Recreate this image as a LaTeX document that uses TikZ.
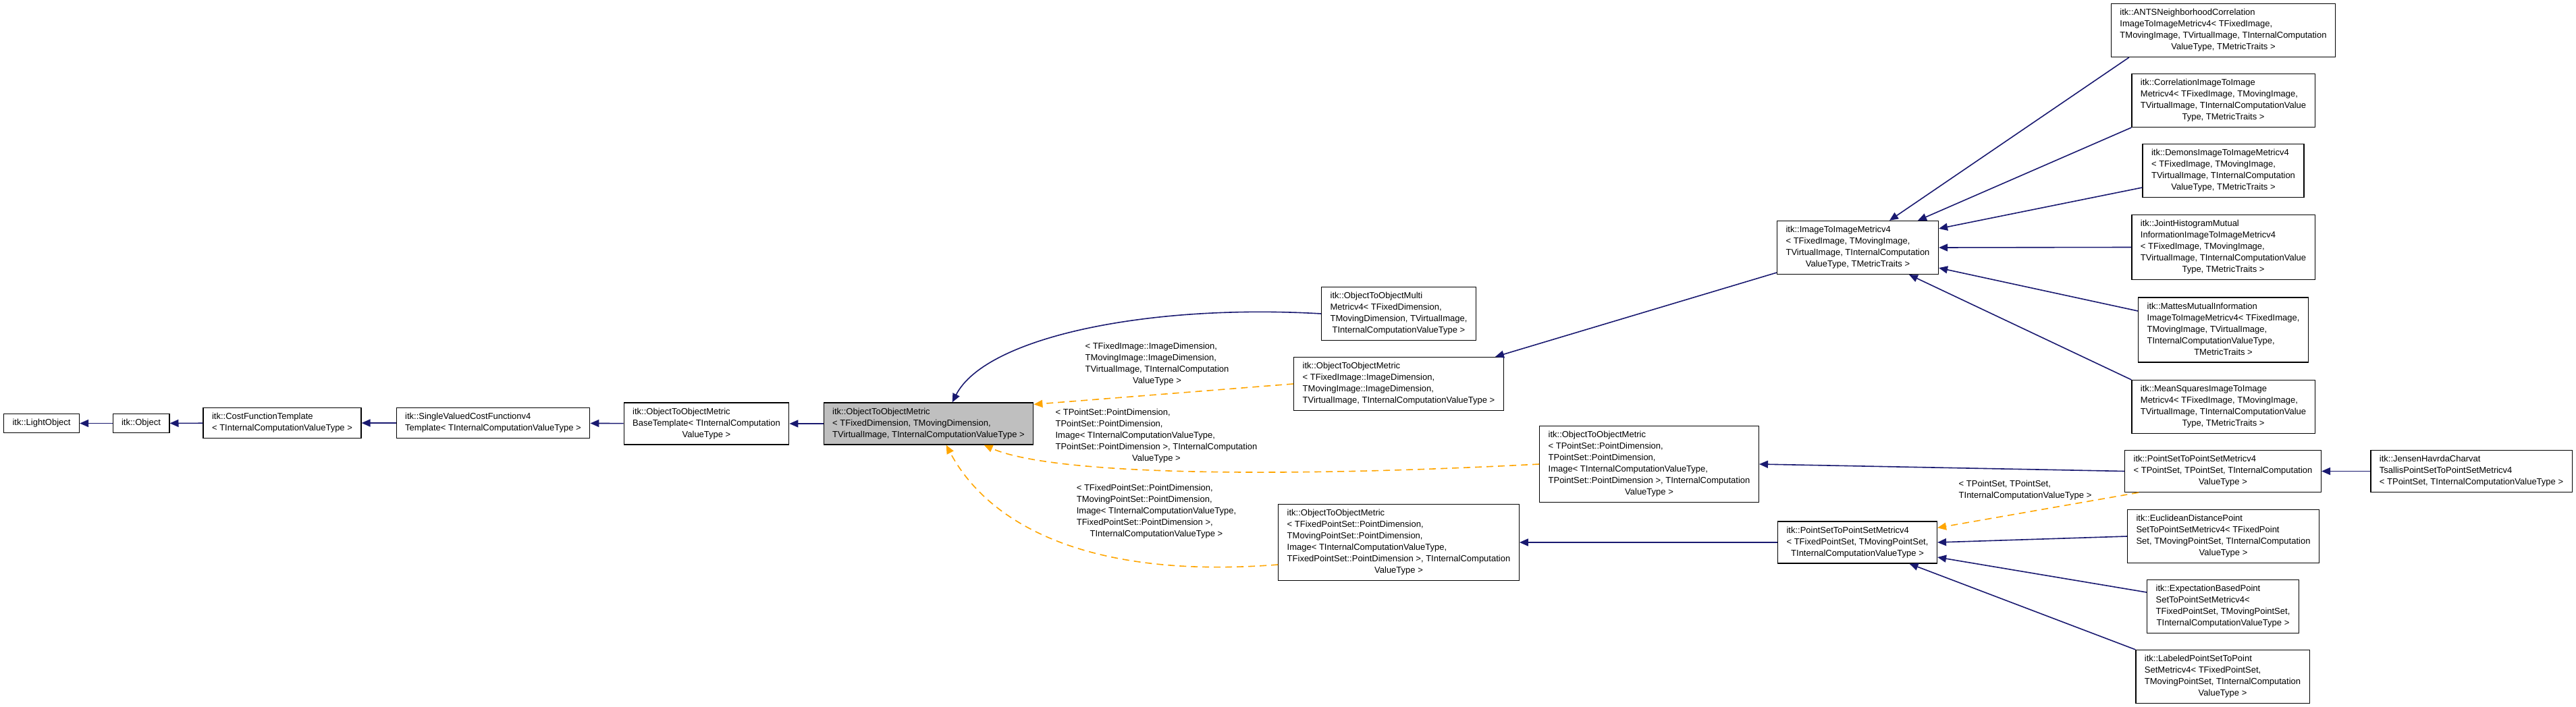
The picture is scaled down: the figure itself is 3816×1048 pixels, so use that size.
\documentclass[tikz,border=0pt]{standalone}
\usepackage{fontspec}
\setmainfont{Liberation Sans}
\usetikzlibrary{arrows.meta,calc}
\definecolor{edgeblue}{HTML}{191970}
\definecolor{tplorange}{HTML}{FFA500}
\definecolor{curgray}{HTML}{BFBFBF}
% left aligned lines, last line centred
\newcommand{\cl}[2]{\begin{tabular}{@{}l@{}}#1\multicolumn{1}{@{}c@{}}{#2}\end{tabular}}
\tikzstyle{cls} = [draw, fill=white, line width=1.2pt, inner xsep=13pt, inner ysep=5.5pt, font=\fontsize{13}{17}\selectfont]
\tikzstyle{cur} = [cls, fill=curgray]
\tikzstyle{lbl} = [inner sep=0pt, font=\fontsize{13}{17}\selectfont]
\tikzstyle{inh} = [draw=edgeblue, line width=1.6pt, -{Triangle[length=13pt,width=11pt]}, edgeblue]
\tikzstyle{tpl} = [draw=tplorange, line width=1.6pt, dash pattern=on 10pt off 7pt, -{Triangle[length=13pt,width=11pt]}, tplorange]

\begin{document}
\begin{tikzpicture}[x=1pt, y=-1pt]
    \useasboundingbox (0,0) rectangle (3816,1048);

    % Base chain
    \node[cls] (light) at (61.5,627.5) {\cl{}{itk::LightObject}};
    \node[cls] (object) at (209,627.5) {\cl{}{itk::Object}};
    \node[cls] (costfn) at (418,627) {\cl{itk::CostFunctionTemplate\\}{< TInternalComputationValueType >}};
    \node[cls] (svcf) at (730.5,627) {\cl{itk::SingleValuedCostFunctionv4\\}{Template< TInternalComputationValueType >}};
    \node[cls] (base) at (1046.5,628) {\cl{itk::ObjectToObjectMetric\\BaseTemplate< TInternalComputation\\}{ValueType >}};
    \node[cur] (oom) at (1375.5,628) {\cl{itk::ObjectToObjectMetric\\< TFixedDimension, TMovingDimension,\\}{TVirtualImage, TInternalComputationValueType >}};

    % Middle column
    \node[cls] (multi) at (2072,465) {\cl{itk::ObjectToObjectMulti\\Metricv4< TFixedDimension,\\ TMovingDimension, TVirtualImage,\\}{TInternalComputationValueType >}};
    \node[cls] (oomimg) at (2072,569) {\cl{itk::ObjectToObjectMetric\\< TFixedImage::ImageDimension,\\ TMovingImage::ImageDimension,\\}{TVirtualImage, TInternalComputationValueType >}};
    \node[cls] (oompts) at (2443,688) {\cl{itk::ObjectToObjectMetric\\< TPointSet::PointDimension,\\ TPointSet::PointDimension,\\ Image< TInternalComputationValueType,\\ TPointSet::PointDimension >, TInternalComputation\\}{ValueType >}};
    \node[cls] (oomfps) at (2072,804) {\cl{itk::ObjectToObjectMetric\\< TFixedPointSet::PointDimension,\\ TMovingPointSet::PointDimension,\\ Image< TInternalComputationValueType,\\ TFixedPointSet::PointDimension >, TInternalComputation\\}{ValueType >}};
    \node[cls] (iti) at (2752,367) {\cl{itk::ImageToImageMetricv4\\< TFixedImage, TMovingImage,\\ TVirtualImage, TInternalComputation\\}{ValueType, TMetricTraits >}};
    \node[cls] (pstpsm) at (2751.5,804) {\cl{itk::PointSetToPointSetMetricv4\\< TFixedPointSet, TMovingPointSet,\\}{TInternalComputationValueType >}};

    % Right column
    \node[cls] (ants) at (3293.5,45) {\cl{itk::ANTSNeighborhoodCorrelation\\ImageToImageMetricv4< TFixedImage,\\ TMovingImage, TVirtualImage, TInternalComputation\\}{ValueType, TMetricTraits >}};
    \node[cls] (corr) at (3293.5,149) {\cl{itk::CorrelationImageToImage\\Metricv4< TFixedImage, TMovingImage,\\ TVirtualImage, TInternalComputationValue\\}{Type, TMetricTraits >}};
    \node[cls] (demons) at (3293.5,253) {\cl{itk::DemonsImageToImageMetricv4\\< TFixedImage, TMovingImage,\\ TVirtualImage, TInternalComputation\\}{ValueType, TMetricTraits >}};
    \node[cls] (joint) at (3293.5,366.5) {\cl{itk::JointHistogramMutual\\InformationImageToImageMetricv4\\< TFixedImage, TMovingImage,\\ TVirtualImage, TInternalComputationValue\\}{Type, TMetricTraits >}};
    \node[cls] (mattes) at (3293.5,489) {\cl{itk::MattesMutualInformation\\ImageToImageMetricv4< TFixedImage,\\ TMovingImage, TVirtualImage,\\ TInternalComputationValueType,\\}{TMetricTraits >}};
    \node[cls] (means) at (3293.5,603) {\cl{itk::MeanSquaresImageToImage\\Metricv4< TFixedImage, TMovingImage,\\ TVirtualImage, TInternalComputationValue\\}{Type, TMetricTraits >}};
    \node[cls] (pspt) at (3293,698.5) {\cl{itk::PointSetToPointSetMetricv4\\< TPointSet, TPointSet, TInternalComputation\\}{ValueType >}};
    \node[cls] (jensen) at (3661,698.5) {\cl{itk::JensenHavrdaCharvat\\TsallisPointSetToPointSetMetricv4\\}{< TPointSet, TInternalComputationValueType >}};
    \node[cls] (eucl) at (3293.5,795) {\cl{itk::EuclideanDistancePoint\\SetToPointSetMetricv4< TFixedPoint\\Set, TMovingPointSet, TInternalComputation\\}{ValueType >}};
    \node[cls] (expect) at (3293,899) {\cl{itk::ExpectationBasedPoint\\SetToPointSetMetricv4<\\ TFixedPointSet, TMovingPointSet,\\}{TInternalComputationValueType >}};
    \node[cls] (labeled) at (3292.5,1003) {\cl{itk::LabeledPointSetToPoint\\SetMetricv4< TFixedPointSet,\\ TMovingPointSet, TInternalComputation\\}{ValueType >}};

    % Template argument labels
    \node[lbl] (lblimg) at (1714,540) {\cl{< TFixedImage::ImageDimension,\\TMovingImage::ImageDimension,\\TVirtualImage, TInternalComputation\\}{ValueType >}};
    \node[lbl] (lblpts) at (1713,646) {\cl{< TPointSet::PointDimension,\\TPointSet::PointDimension,\\Image< TInternalComputationValueType,\\TPointSet::PointDimension >, TInternalComputation\\}{ValueType >}};
    \node[lbl] (lblfps) at (1713,758) {\cl{< TFixedPointSet::PointDimension,\\TMovingPointSet::PointDimension,\\Image< TInternalComputationValueType,\\TFixedPointSet::PointDimension >,\\}{TInternalComputationValueType >}};
    \node[lbl] (lblps) at (3000,727) {\cl{< TPointSet, TPointSet,\\}{TInternalComputationValueType >}};

    % Inheritance
    \draw[inh] (object) -- (light);
    \draw[inh] (costfn) -- (object);
    \draw[inh] (svcf) -- (costfn);
    \draw[inh] (base) -- (svcf);
    \draw[inh] (oom) -- (base);
    \draw[inh] (multi.west) .. controls (1700,450) and (1460,500) .. ($(oom.north west)+(191,0)$);
    \draw[inh] ($(iti.south west)+(0,-3)$) -- ($(oomimg.north east)+(-13,0)$);
    \draw[inh] ($(ants.south west)+(27,0)$) -- ($(iti.north west)+(167,0)$);
    \draw[inh] (corr.south west) -- ($(iti.north west)+(209,0)$);
    \draw[inh] ($(demons.west)+(0,25)$) -- ($(iti.north east)+(0,12)$);
    \draw[inh] (joint.west) -- (iti.east);
    \draw[inh] ($(mattes.west)+(0,-28)$) -- ($(iti.south east)+(0,-10)$);
    \draw[inh] (means.north west) -- ($(iti.south west)+(196,0)$);
    \draw[inh] (pspt.west) -- (oompts.east);
    \draw[inh] (jensen) -- (pspt);
    \draw[inh] (eucl.west) -- (pstpsm.east);
    \draw[inh] ($(expect.west)+(0,-21)$) -- ($(pstpsm.east)+(0,22)$);
    \draw[inh] (labeled.north west) -- ($(pstpsm.south)+(77,0)$);
    \draw[inh] (pstpsm) -- (oomfps);

    % Template instances
    \draw[tpl] (oomimg.west) -- ($(oom.north east)+(0,3)$);
    \draw[tpl] (oompts.west) .. controls (1900,708) and (1560,705) .. ($(oom.south west)+(238,0)$);
    \draw[tpl] ($(oomfps.west)+(0,33)$) .. controls (1600,860) and (1460,770) .. ($(oom.south west)+(182,0)$);
    \draw[tpl] ($(pspt.south west)+(21,0)$) -- ($(pstpsm.north east)+(0,10)$);
\end{tikzpicture}
\end{document}
